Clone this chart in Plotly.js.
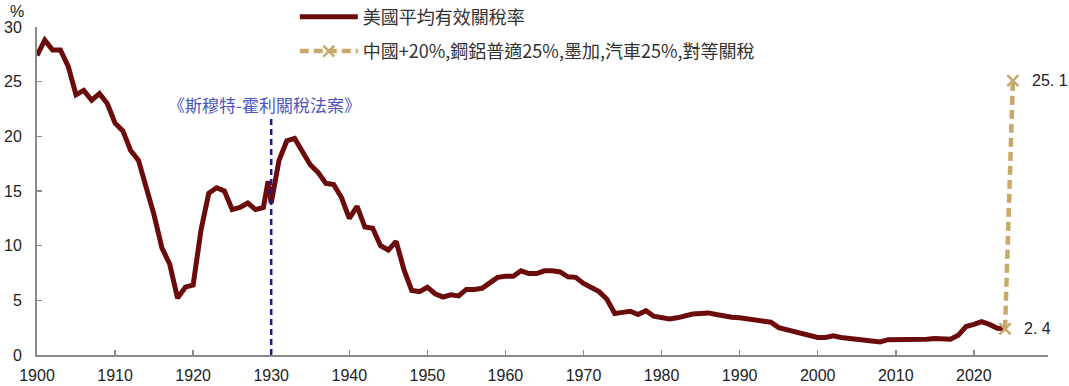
<!DOCTYPE html>
<html>
<head>
<meta charset="utf-8">
<script src="https://cdn.plot.ly/plotly-3.0.1.min.js"></script>
<style>html,body{margin:0;padding:0;background:#fff;}#chart{width:1069px;height:386px;}</style>
</head>
<body>
<div id="chart"></div>
<script>
// ---- data ----
const years = [1900,1901,1902,1903,1904,1905,1906,1907,1908,1909,
  1910,1911,1912,1913,1914,1915,1916,1917,1918,1919,
  1920,1921,1922,1923,1924,1925,1926,1927,1928,1929,1929.6,
  1930,1931,1932,1933,1934,1935,1936,1937,1938,1939,
  1940,1941,1942,1943,1944,1945,1946,1947,1948,1949,
  1950,1951,1952,1953,1954,1955,1956,1957,1958,1959,
  1960,1961,1962,1963,1964,1965,1966,1967,1968,1969,
  1970,1971,1972,1973,1974,1975,1976,1977,1978,1979,
  1980,1981,1982,1983,1984,1985,1986,1987,1988,1989,
  1990,1991,1992,1993,1994,1995,1996,1997,1998,1999,
  2000,2001,2002,2003,2004,2005,2006,2007,2008,2009,
  2010,2011,2012,2013,2014,2015,2016,2017,2018,2019,
  2020,2021,2022,2023,2024];
const tariffRate = [27.4,28.8,27.9,27.9,26.4,23.8,24.2,23.3,23.9,23.0,
  21.2,20.5,18.7,17.8,15.3,12.8,9.8,8.3,5.2,6.2,
  6.4,11.4,14.8,15.3,15.0,13.3,13.5,13.9,13.3,13.5,15.9,
  13.9,17.8,19.6,19.8,18.5,17.4,16.7,15.7,15.6,14.4,
  12.5,13.6,11.7,11.6,10.0,9.6,10.4,7.8,5.9,5.8,
  6.2,5.6,5.3,5.5,5.4,6.0,6.0,6.1,6.6,7.1,
  7.2,7.2,7.7,7.45,7.45,7.7,7.7,7.6,7.15,7.1,
  6.55,6.2,5.8,5.1,3.8,3.9,4.0,3.7,4.05,3.55,
  3.45,3.3,3.4,3.6,3.75,3.8,3.85,3.7,3.55,3.45,
  3.4,3.3,3.25,3.2,3.0,2.5,2.3,2.15,2.0,1.8,
  1.6,1.6,1.75,1.6,1.5,1.45,1.4,1.3,1.2,1.4,
  1.4,1.35,1.35,1.4,1.45,1.5,1.5,1.45,1.8,2.6,
  2.8,3.05,2.8,2.45,2.4];
const scenarioYears = [2024, 2025];
const scenarioRate = [2.4, 25.1];
const scenarioLabels = ['2. 4', '25. 1'];
const actYear = 1930;
const actTop = 21.8;
const actLabel = '《斯穆特-霍利關稅法案》';
const xTicks = [1900,1910,1920,1930,1940,1950,1960,1970,1980,1990,2000,2010,2020];
const yTicks = [0,5,10,15,20,25,30];
const seriesNames = ['美國平均有效關稅率', '中國+20%,鋼鋁普適25%,墨加,汽車25%,對等關稅'];

const cjk = '"Noto Sans CJK TC", "Noto Sans CJK SC", sans-serif';
const num = '"Liberation Sans", Arial, sans-serif';

const traces = [
  {
    x: years, y: tariffRate, type: 'scatter', mode: 'lines',
    name: seriesNames[0], legendgroup: 'a',
    line: {color: '#6b0b0b', width: 5}
  },
  {
    x: scenarioYears, y: scenarioRate, type: 'scatter', mode: 'lines+markers',
    name: seriesNames[1], legendgroup: 'b',
    line: {color: '#c9a96a', width: 4.5, dash: '9px,5px'},
    marker: {symbol: 'x-thin', size: 11, line: {color: '#c9a96a', width: 2.5}, color: '#c9a96a'}
  }
];

const annotations = scenarioYears.map((yr, i) => ({
  x: yr, y: scenarioRate[i], xref: 'x', yref: 'y', text: scenarioLabels[i],
  showarrow: false, xanchor: 'left', yanchor: 'middle', xshift: 17,
  font: {family: num, size: 16, color: '#222'}
}));
annotations.push({
  x: actYear - 0.9, y: actTop + 1.15, xref: 'x', yref: 'y', text: actLabel,
  showarrow: false, xanchor: 'center', yanchor: 'middle',
  font: {family: cjk, size: 17, color: '#4d55bd'}
});
annotations.push({
  x: -0.02, y: 1.046, xref: 'paper', yref: 'paper', text: '%',
  showarrow: false, xanchor: 'center', yanchor: 'middle',
  font: {family: num, size: 16, color: '#222'}
});

const layout = {
  width: 1069, height: 386,
  margin: {l: 37, r: 21, t: 27, b: 31, autoexpand: false},
  paper_bgcolor: '#fff', plot_bgcolor: '#fff',
  showlegend: true,
  legend: {
    x: 0.255, y: 1.087, xanchor: 'left', yanchor: 'top',
    orientation: 'v', traceorder: 'grouped', tracegroupgap: 8,
    itemwidth: 58, bgcolor: 'rgba(255,255,255,0)',
    font: {family: cjk, size: 18, color: '#333'}
  },
  xaxis: {
    range: [1900, 2029.5], tickvals: xTicks, ticktext: xTicks.map(String),
    showgrid: false, zeroline: false,
    showline: true, linecolor: '#8a8a8a', linewidth: 2,
    ticks: 'inside', ticklen: 5, tickwidth: 1.5, tickcolor: '#8a8a8a',
    ticklabelstandoff: 5,
    tickfont: {family: num, size: 16, color: '#222'}
  },
  yaxis: {
    range: [0, 30], tickvals: yTicks, ticktext: yTicks.map(String),
    showgrid: false, zeroline: false,
    showline: true, linecolor: '#8a8a8a', linewidth: 2,
    ticks: 'inside', ticklen: 5, tickwidth: 1.5, tickcolor: '#8a8a8a',
    ticklabelstandoff: 10,
    tickfont: {family: num, size: 16, color: '#222'}
  },
  shapes: [{
    type: 'line', xref: 'x', yref: 'y', x0: actYear, x1: actYear, y0: 0, y1: actTop,
    line: {color: '#1b1b82', width: 2.5, dash: '6px,4px'}, layer: 'above'
  }],
  annotations: annotations
};

Plotly.newPlot('chart', traces, layout, {displayModeBar: false, staticPlot: true});
</script>
</body>
</html>
